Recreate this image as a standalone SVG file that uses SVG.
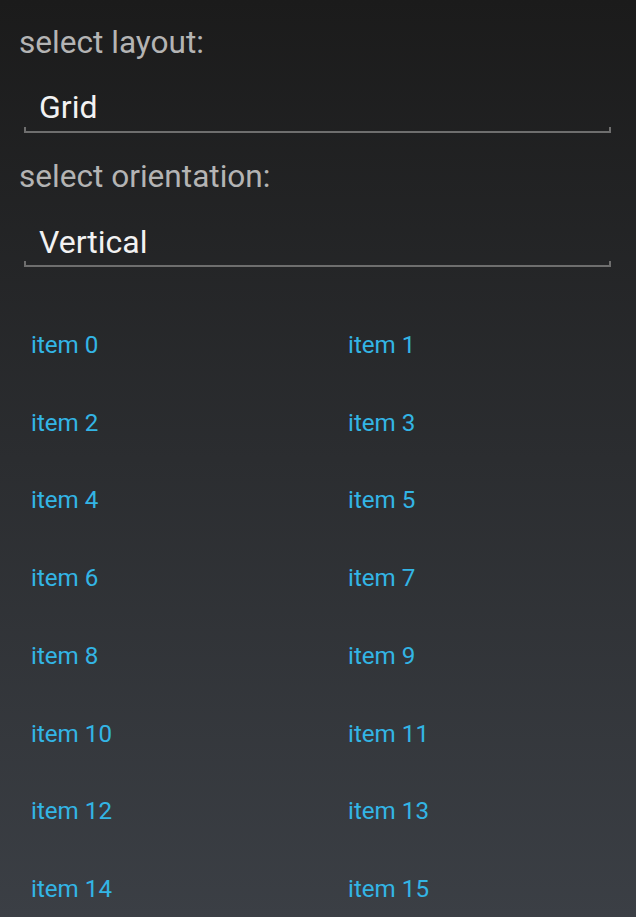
<svg xmlns="http://www.w3.org/2000/svg" width="636" height="917" viewBox="0 0 636 917">
<defs>
<linearGradient id="bg" x1="0" y1="0" x2="0" y2="1">
<stop offset="0" stop-color="#1b1b1b"/>
<stop offset="1" stop-color="#3b3f45"/>
</linearGradient>
<style>
.lbl{font-family:Roboto,"Liberation Sans",sans-serif;font-size:31.6px;fill:#b4b4b4}
.val{font-family:Roboto,"Liberation Sans",sans-serif;font-size:32px;fill:#f2f2f2}
.item{font-family:Roboto,"Liberation Sans",sans-serif;font-size:24.2px;fill:#33b5e5}
.ul{fill:none;stroke:#6e6e6e;stroke-width:2}
</style>
</defs>
<rect width="636" height="917" fill="url(#bg)"/>
<g id="layout-label"><text class="lbl" x="19" y="53">select layout:</text></g>
<g id="layout-spinner">
<text class="val" x="39" y="118">Grid</text>
<path class="ul" d="M25 127V132H610V127"/>
</g>
<g id="orientation-label"><text class="lbl" x="19" y="187">select orientation:</text></g>
<g id="orientation-spinner">
<text class="val" x="39" y="253">Vertical</text>
<path class="ul" d="M25 261V266H610V261"/>
</g>
<g id="grid">
<text class="item" x="31" y="353">item 0</text>
<text class="item" x="348" y="353">item 1</text>
<text class="item" x="31" y="431">item 2</text>
<text class="item" x="348" y="431">item 3</text>
<text class="item" x="31" y="508">item 4</text>
<text class="item" x="348" y="508">item 5</text>
<text class="item" x="31" y="586">item 6</text>
<text class="item" x="348" y="586">item 7</text>
<text class="item" x="31" y="664">item 8</text>
<text class="item" x="348" y="664">item 9</text>
<text class="item" x="31" y="742">item 10</text>
<text class="item" x="348" y="742">item 11</text>
<text class="item" x="31" y="819">item 12</text>
<text class="item" x="348" y="819">item 13</text>
<text class="item" x="31" y="897">item 14</text>
<text class="item" x="348" y="897">item 15</text>
</g>
</svg>
